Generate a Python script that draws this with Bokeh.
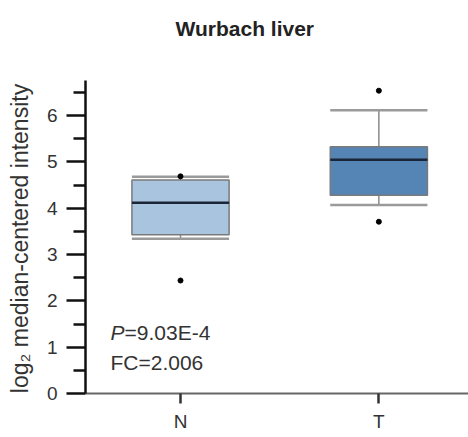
import numpy as np
from bokeh.plotting import figure
from bokeh.models import Range1d, FixedTicker, Label
from bokeh.embed import file_html
from bokeh.resources import INLINE

# ---- data ----
categories = ["N", "T"]
cat_pos = [1, 2]
q1 = [3.43, 4.28]
median = [4.12, 5.05]
q3 = [4.61, 5.33]
whisker_low = [3.34, 4.07]
whisker_high = [4.68, 6.12]
outlier_cat = [1, 1, 2, 2]
outlier_val = [4.69, 2.44, 6.54, 3.71]
box_colors = ["#a9c4de", "#5585b5"]
y_ticks = [0, 1, 2, 3, 4, 5, 6]
y_minor = [0.5, 1.5, 2.5, 3.5, 4.5, 5.5, 6.5]
y_axis_span = (0, 6.76)
p_text = "=9.03E-4"
fc_text = "FC=2.006"
title_text = "Wurbach liver"
y_label = "log\u2082 median-centered intensity" + "\u00a0" * 13

FONT = "Liberation Sans"
box_w = 0.49

p = figure(width=468, height=437, output_backend="svg", toolbar_location=None,
           x_range=Range1d(0.521, 2.452), y_range=Range1d(0, 8.488),
           min_border_left=85, min_border_right=0, min_border_top=0, min_border_bottom=44)
p.outline_line_color = None
p.xgrid.visible = False
p.ygrid.visible = False
p.background_fill_color = "white"
p.border_fill_color = "white"

x = np.array(cat_pos, dtype=float)
half = box_w / 2

# whisker stems
p.segment(x0=x, y0=np.array(q3), x1=x, y1=np.array(whisker_high), line_color="#8a8a8a", line_width=1.5)
p.segment(x0=x, y0=np.array(q1), x1=x, y1=np.array(whisker_low), line_color="#8a8a8a", line_width=1.5)
# caps
p.segment(x0=x - half, y0=np.array(whisker_high), x1=x + half, y1=np.array(whisker_high), line_color="#9a9a9a", line_width=2.5)
p.segment(x0=x - half, y0=np.array(whisker_low), x1=x + half, y1=np.array(whisker_low), line_color="#9a9a9a", line_width=2.5)
# boxes
p.vbar(x=x, width=box_w, top=q3, bottom=q1, fill_color=box_colors, line_color="#7a7a7a", line_width=1.5)
# medians
p.segment(x0=x - half, y0=np.array(median), x1=x + half, y1=np.array(median), line_color="#1b2538", line_width=2.5)
# outliers
p.scatter(x=outlier_cat, y=outlier_val, size=5, fill_color="black", line_color="black")

# axes
p.yaxis.bounds = y_axis_span
p.yaxis.ticker = FixedTicker(ticks=y_ticks, minor_ticks=y_minor)
p.yaxis.axis_line_color = "#111111"
p.yaxis.axis_line_width = 2.5
p.yaxis.major_tick_line_color = "#111111"
p.yaxis.major_tick_line_width = 2.5
p.yaxis.minor_tick_line_color = "#111111"
p.yaxis.minor_tick_line_width = 2.5
p.yaxis.major_tick_out = 19
p.yaxis.major_tick_in = 0
p.yaxis.minor_tick_out = 12
p.yaxis.minor_tick_in = 0
p.yaxis.major_label_text_font = FONT
p.yaxis.major_label_text_font_size = "19px"
p.yaxis.major_label_text_color = "#333333"
p.yaxis.major_label_standoff = 9
p.yaxis.axis_label = y_label
p.yaxis.axis_label_text_font = FONT
p.yaxis.axis_label_text_font_size = "23px"
p.yaxis.axis_label_text_font_style = "normal"
p.yaxis.axis_label_text_color = "#333333"
p.yaxis.axis_label_standoff = 11

p.xaxis.ticker = FixedTicker(ticks=cat_pos, minor_ticks=[])
p.xaxis.major_label_overrides = {c: n for c, n in zip(cat_pos, categories)}
p.xaxis.axis_line_color = "#666666"
p.xaxis.axis_line_width = 2
p.xaxis.major_tick_line_color = "#333333"
p.xaxis.major_tick_line_width = 2.5
p.xaxis.major_tick_out = 10
p.xaxis.major_tick_in = 0
p.xaxis.minor_tick_line_color = None
p.xaxis.major_label_text_font = FONT
p.xaxis.major_label_text_font_size = "19px"
p.xaxis.major_label_text_color = "#333333"
p.xaxis.major_label_standoff = 7

# title (drawn as a label in the upper part of the frame)
p.add_layout(Label(x=0.975, y=7.89, text=title_text, text_font=FONT, text_font_size="21px",
                   text_font_style="bold", text_color="#222222", text_baseline="alphabetic"))

# annotations
p.add_layout(Label(x=0.647, y=1.32, text="P", text_font=FONT, text_font_size="21px",
                   text_font_style="italic", text_color="#333333", text_baseline="alphabetic"))
p.add_layout(Label(x=0.647, y=1.32, x_offset=14, text=p_text, text_font=FONT, text_font_size="21px",
                   text_color="#333333", text_baseline="alphabetic"))
p.add_layout(Label(x=0.647, y=0.67, text=fc_text, text_font=FONT, text_font_size="21px",
                   text_color="#333333", text_baseline="alphabetic"))

open("out.html", "w").write(file_html(p, INLINE))
